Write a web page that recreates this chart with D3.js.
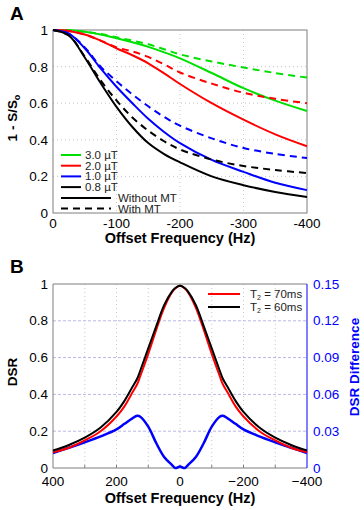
<!DOCTYPE html>
<html>
<head>
<meta charset="utf-8">
<script src="https://cdn.jsdelivr.net/npm/d3@7"></script>
<style>
  body { margin: 0; background: #fff; }
  svg { font-family: "Liberation Sans", Arial, sans-serif; }
</style>
</head>
<body>
<div id="chart"></div>
<script>
const width = 364;
const height = 510;

// ---- panel A data ----
const freqA = [0, -25, -50, -75, -100, -125, -150, -175, -200, -250, -300, -350, -400];
const green30 = [1, 0.998, 0.99, 0.975, 0.955, 0.933, 0.908, 0.878, 0.845, 0.765, 0.682, 0.614, 0.557];
const green30MT = [1, 0.998, 0.99, 0.978, 0.96, 0.942, 0.922, 0.895, 0.867, 0.828, 0.795, 0.765, 0.74];
const red20 = [1, 0.995, 0.975, 0.942, 0.9, 0.862, 0.818, 0.763, 0.705, 0.6, 0.51, 0.43, 0.365];
const red20MT = [1, 0.995, 0.975, 0.942, 0.905, 0.883, 0.853, 0.812, 0.768, 0.707, 0.657, 0.624, 0.6];
const blue10 = [1, 0.98, 0.9, 0.79, 0.69, 0.6, 0.515, 0.443, 0.382, 0.29, 0.225, 0.165, 0.125];
const blue10MT = [1, 0.98, 0.905, 0.8, 0.72, 0.648, 0.583, 0.525, 0.477, 0.408, 0.355, 0.323, 0.3];
const black08 = [1, 0.97, 0.85, 0.71, 0.58, 0.47, 0.382, 0.322, 0.277, 0.2, 0.152, 0.115, 0.088];
const black08MT = [1, 0.97, 0.855, 0.725, 0.615, 0.522, 0.45, 0.392, 0.347, 0.292, 0.257, 0.235, 0.218];
const legendA = ['3.0 \u00b5T', '2.0 \u00b5T', '1.0 \u00b5T', '0.8 \u00b5T'];
const xTicksA = [0, -100, -200, -300, -400];
const yTicksA = [0, 0.2, 0.4, 0.6, 0.8, 1];

// ---- panel B data ----
const freqB = [400, 350, 300, 250, 200, 175, 150, 135, 125, 100, 75, 50, 25, 15, 0,
  -15, -25, -50, -75, -100, -125, -135, -150, -175, -200, -250, -300, -350, -400];
const dsr70 = [0.085, 0.11, 0.15, 0.2, 0.28, 0.335, 0.41, 0.455, 0.5, 0.62, 0.75, 0.87, 0.955, 0.975, 0.99,
  0.975, 0.955, 0.87, 0.75, 0.62, 0.5, 0.455, 0.41, 0.335, 0.28, 0.2, 0.15, 0.11, 0.085];
const dsr60 = [0.095, 0.125, 0.165, 0.22, 0.305, 0.365, 0.44, 0.485, 0.53, 0.65, 0.77, 0.885, 0.96, 0.978, 0.99,
  0.978, 0.96, 0.885, 0.77, 0.65, 0.53, 0.485, 0.44, 0.365, 0.305, 0.22, 0.165, 0.125, 0.095];
const dsrDiff = [0.0122, 0.0165, 0.021, 0.0258, 0.0315, 0.036, 0.0405, 0.0425, 0.0418, 0.0337, 0.0204, 0.009, 0.0024, 0.0, 0.0012,
  0.0, 0.0024, 0.009, 0.0204, 0.0337, 0.0418, 0.0425, 0.0405, 0.036, 0.0315, 0.0258, 0.021, 0.0165, 0.0122];
const legendB = ['70ms', '60ms'];
const xTicksB = [400, 200, 0, -200, -400];
const xGridB = [300, 200, 100, 0, -100, -200, -300];
const yTicksB = [0, 0.2, 0.4, 0.6, 0.8, 1];
const yTicksB2 = [0, 0.03, 0.06, 0.09, 0.12, 0.15];

const svg = d3.select('#chart').append('svg')
  .attr('width', width).attr('height', height);

const AXIS_GREY = '#7f7f7f';
const fmtMinus = (d) => (d < 0 ? '\u2212' + Math.abs(d) : String(d));
const smooth = d3.curveCatmullRom.alpha(0.5);

// ================= panel A =================
const A = { left: 53, right: 307, top: 30, bottom: 213 };
const xA = d3.scaleLinear().domain([0, -400]).range([A.left, A.right]);
const yA = d3.scaleLinear().domain([0, 1]).range([A.bottom, A.top]);

const gA = svg.append('g');

// grid
gA.selectAll('line.vgrid').data(xTicksA.slice(1, -1)).join('line')
  .attr('x1', (d) => xA(d)).attr('x2', (d) => xA(d))
  .attr('y1', A.top).attr('y2', A.bottom)
  .attr('stroke', '#c8c8c8').attr('stroke-dasharray', '1,3');
gA.selectAll('line.hgrid').data(yTicksA.slice(1, -1)).join('line')
  .attr('x1', A.left).attr('x2', A.right)
  .attr('y1', (d) => yA(d)).attr('y2', (d) => yA(d))
  .attr('stroke', '#c8c8c8').attr('stroke-dasharray', '1,3');

// box
gA.append('rect').attr('x', A.left).attr('y', A.top)
  .attr('width', A.right - A.left).attr('height', A.bottom - A.top)
  .attr('fill', 'none').attr('stroke', AXIS_GREY).attr('stroke-width', 1);

// tick labels
gA.selectAll('text.xt').data(xTicksA).join('text')
  .attr('x', (d) => xA(d)).attr('y', A.bottom + 15)
  .attr('text-anchor', 'middle').attr('font-size', 13.5).text((d) => d);
gA.selectAll('text.yt').data(yTicksA).join('text')
  .attr('x', A.left - 5).attr('y', (d) => yA(d) + 5)
  .attr('text-anchor', 'end').attr('font-size', 13.5).text((d) => d);

// curves
const lineA = (vals) => d3.line()
  .x((d, i) => xA(freqA[i])).y((d) => yA(d))
  .curve(smooth)(vals);
const seriesA = [
  { v: green30, c: '#00e000', dash: null },
  { v: green30MT, c: '#00e000', dash: '7,5' },
  { v: red20, c: '#ff0000', dash: null },
  { v: red20MT, c: '#ff0000', dash: '7,5' },
  { v: blue10, c: '#0000ff', dash: null },
  { v: blue10MT, c: '#0000ff', dash: '7,5' },
  { v: black08, c: '#000000', dash: null },
  { v: black08MT, c: '#000000', dash: '7,5' }
];
gA.selectAll('path.curve').data(seriesA).join('path')
  .attr('d', (d) => lineA(d.v))
  .attr('fill', 'none').attr('stroke', (d) => d.c)
  .attr('stroke-width', 2)
  .attr('stroke-dasharray', (d) => d.dash);

// legend A
const legCols = ['#00e000', '#ff0000', '#0000ff', '#000000'];
const legA = gA.append('g');
legendA.forEach((t, i) => {
  const y = 155 + i * 10.7;
  legA.append('line').attr('x1', 61).attr('x2', 81).attr('y1', y).attr('y2', y)
    .attr('stroke', legCols[i]).attr('stroke-width', 2);
  legA.append('text').attr('x', 85).attr('y', y + 4).attr('font-size', 11.5)
    .attr('fill', '#222').text(t);
});
[['Without MT', null], ['With MT', '7,5']].forEach(([t, dash], i) => {
  const y = 198 + i * 10.5;
  legA.append('line').attr('x1', 61).attr('x2', 111).attr('y1', y).attr('y2', y)
    .attr('stroke', '#000').attr('stroke-width', 2).attr('stroke-dasharray', dash);
  legA.append('text').attr('x', 118).attr('y', y + 4).attr('font-size', 11.5)
    .attr('fill', '#222').text(t);
});

// titles A
svg.append('text').attr('x', 10).attr('y', 20).attr('font-size', 19)
  .attr('font-weight', 'bold').text('A');
svg.append('text').attr('x', (A.left + A.right) / 2).attr('y', 243)
  .attr('text-anchor', 'middle').attr('font-size', 14.5).attr('font-weight', 'bold')
  .text('Offset Frequency (Hz)');
const yLabA = svg.append('text')
  .attr('transform', 'translate(17,118) rotate(-90)')
  .attr('text-anchor', 'middle').attr('font-size', 13.5).attr('font-weight', 'bold');
yLabA.append('tspan').text('1 - S/S');
yLabA.append('tspan').attr('font-size', 9).attr('dy', 3).text('o');

// ================= panel B =================
const B = { left: 53, right: 307, top: 284, bottom: 468 };
const xB = d3.scaleLinear().domain([400, -400]).range([B.left, B.right]);
const yB = d3.scaleLinear().domain([0, 1]).range([B.bottom, B.top]);
const yB2 = d3.scaleLinear().domain([0, 0.15]).range([B.bottom, B.top]);

const gB = svg.append('g');

gB.selectAll('line.vgrid').data(xGridB).join('line')
  .attr('x1', (d) => xB(d)).attr('x2', (d) => xB(d))
  .attr('y1', B.top).attr('y2', B.bottom)
  .attr('stroke', '#c8c8c8').attr('stroke-dasharray', '1,3');
gB.selectAll('line.hgrid').data(yTicksB.slice(1, -1)).join('line')
  .attr('x1', B.left).attr('x2', B.right)
  .attr('y1', (d) => yB(d)).attr('y2', (d) => yB(d))
  .attr('stroke', '#b8b8e8').attr('stroke-dasharray', '3,2');

// bottom ticks (inward)
gB.selectAll('line.xtick').data(xGridB).join('line')
  .attr('x1', (d) => xB(d)).attr('x2', (d) => xB(d))
  .attr('y1', B.bottom).attr('y2', B.bottom - 3)
  .attr('stroke', AXIS_GREY);

// box: left/top/bottom grey, right blue
gB.append('path')
  .attr('d', `M${B.right},${B.top}H${B.left}V${B.bottom}H${B.right}`)
  .attr('fill', 'none').attr('stroke', AXIS_GREY);
gB.append('line').attr('x1', B.right).attr('x2', B.right)
  .attr('y1', B.top).attr('y2', B.bottom).attr('stroke', '#0000ff');

gB.selectAll('text.xt').data(xTicksB).join('text')
  .attr('x', (d) => xB(d)).attr('y', B.bottom + 18)
  .attr('text-anchor', 'middle').attr('font-size', 13.5).text(fmtMinus);
gB.selectAll('text.yt').data(yTicksB).join('text')
  .attr('x', B.left - 5).attr('y', (d) => yB(d) + 4.5)
  .attr('text-anchor', 'end').attr('font-size', 13.5).text((d) => d);
gB.selectAll('text.yt2').data(yTicksB2).join('text')
  .attr('x', B.right + 6).attr('y', (d) => yB2(d) + 4.5)
  .attr('text-anchor', 'start').attr('font-size', 13.5).attr('fill', '#0000ff')
  .text((d) => d);

const lineB = (scale, vals) => d3.line()
  .x((d, i) => xB(freqB[i])).y((d) => scale(d))
  .curve(smooth)(vals);

gB.append('path').attr('d', lineB(yB2, dsrDiff))
  .attr('fill', 'none').attr('stroke', '#0000ff').attr('stroke-width', 2.5);
gB.append('path').attr('d', lineB(yB, dsr70))
  .attr('fill', 'none').attr('stroke', '#ff0000').attr('stroke-width', 2);
gB.append('path').attr('d', lineB(yB, dsr60))
  .attr('fill', 'none').attr('stroke', '#000000').attr('stroke-width', 2);

// legend B
const legB = gB.append('g');
[['#ff0000', legendB[0]], ['#000000', legendB[1]]].forEach(([c, t], i) => {
  const y = 294 + i * 13;
  legB.append('line').attr('x1', 208).attr('x2', 240).attr('y1', y).attr('y2', y)
    .attr('stroke', c).attr('stroke-width', 2);
  const tx = legB.append('text').attr('x', 250).attr('y', y + 4)
    .attr('font-size', 11.5).attr('fill', '#222');
  tx.append('tspan').text('T');
  tx.append('tspan').attr('font-size', 7).attr('dy', 2).text('2');
  tx.append('tspan').attr('dy', -2).text(' = ' + t);
});

svg.append('text').attr('x', 10).attr('y', 273).attr('font-size', 19)
  .attr('font-weight', 'bold').text('B');
svg.append('text').attr('x', (B.left + B.right) / 2).attr('y', 503)
  .attr('text-anchor', 'middle').attr('font-size', 14.5).attr('font-weight', 'bold')
  .text('Offset Frequency (Hz)');
svg.append('text').attr('transform', 'translate(17,372) rotate(-90)')
  .attr('text-anchor', 'middle').attr('font-size', 13.5).attr('font-weight', 'bold')
  .text('DSR');
svg.append('text').attr('transform', 'translate(359,367) rotate(-90)')
  .attr('text-anchor', 'middle').attr('font-size', 13.5).attr('font-weight', 'bold')
  .attr('fill', '#0000ff').text('DSR Difference');
</script>
</body>
</html>
